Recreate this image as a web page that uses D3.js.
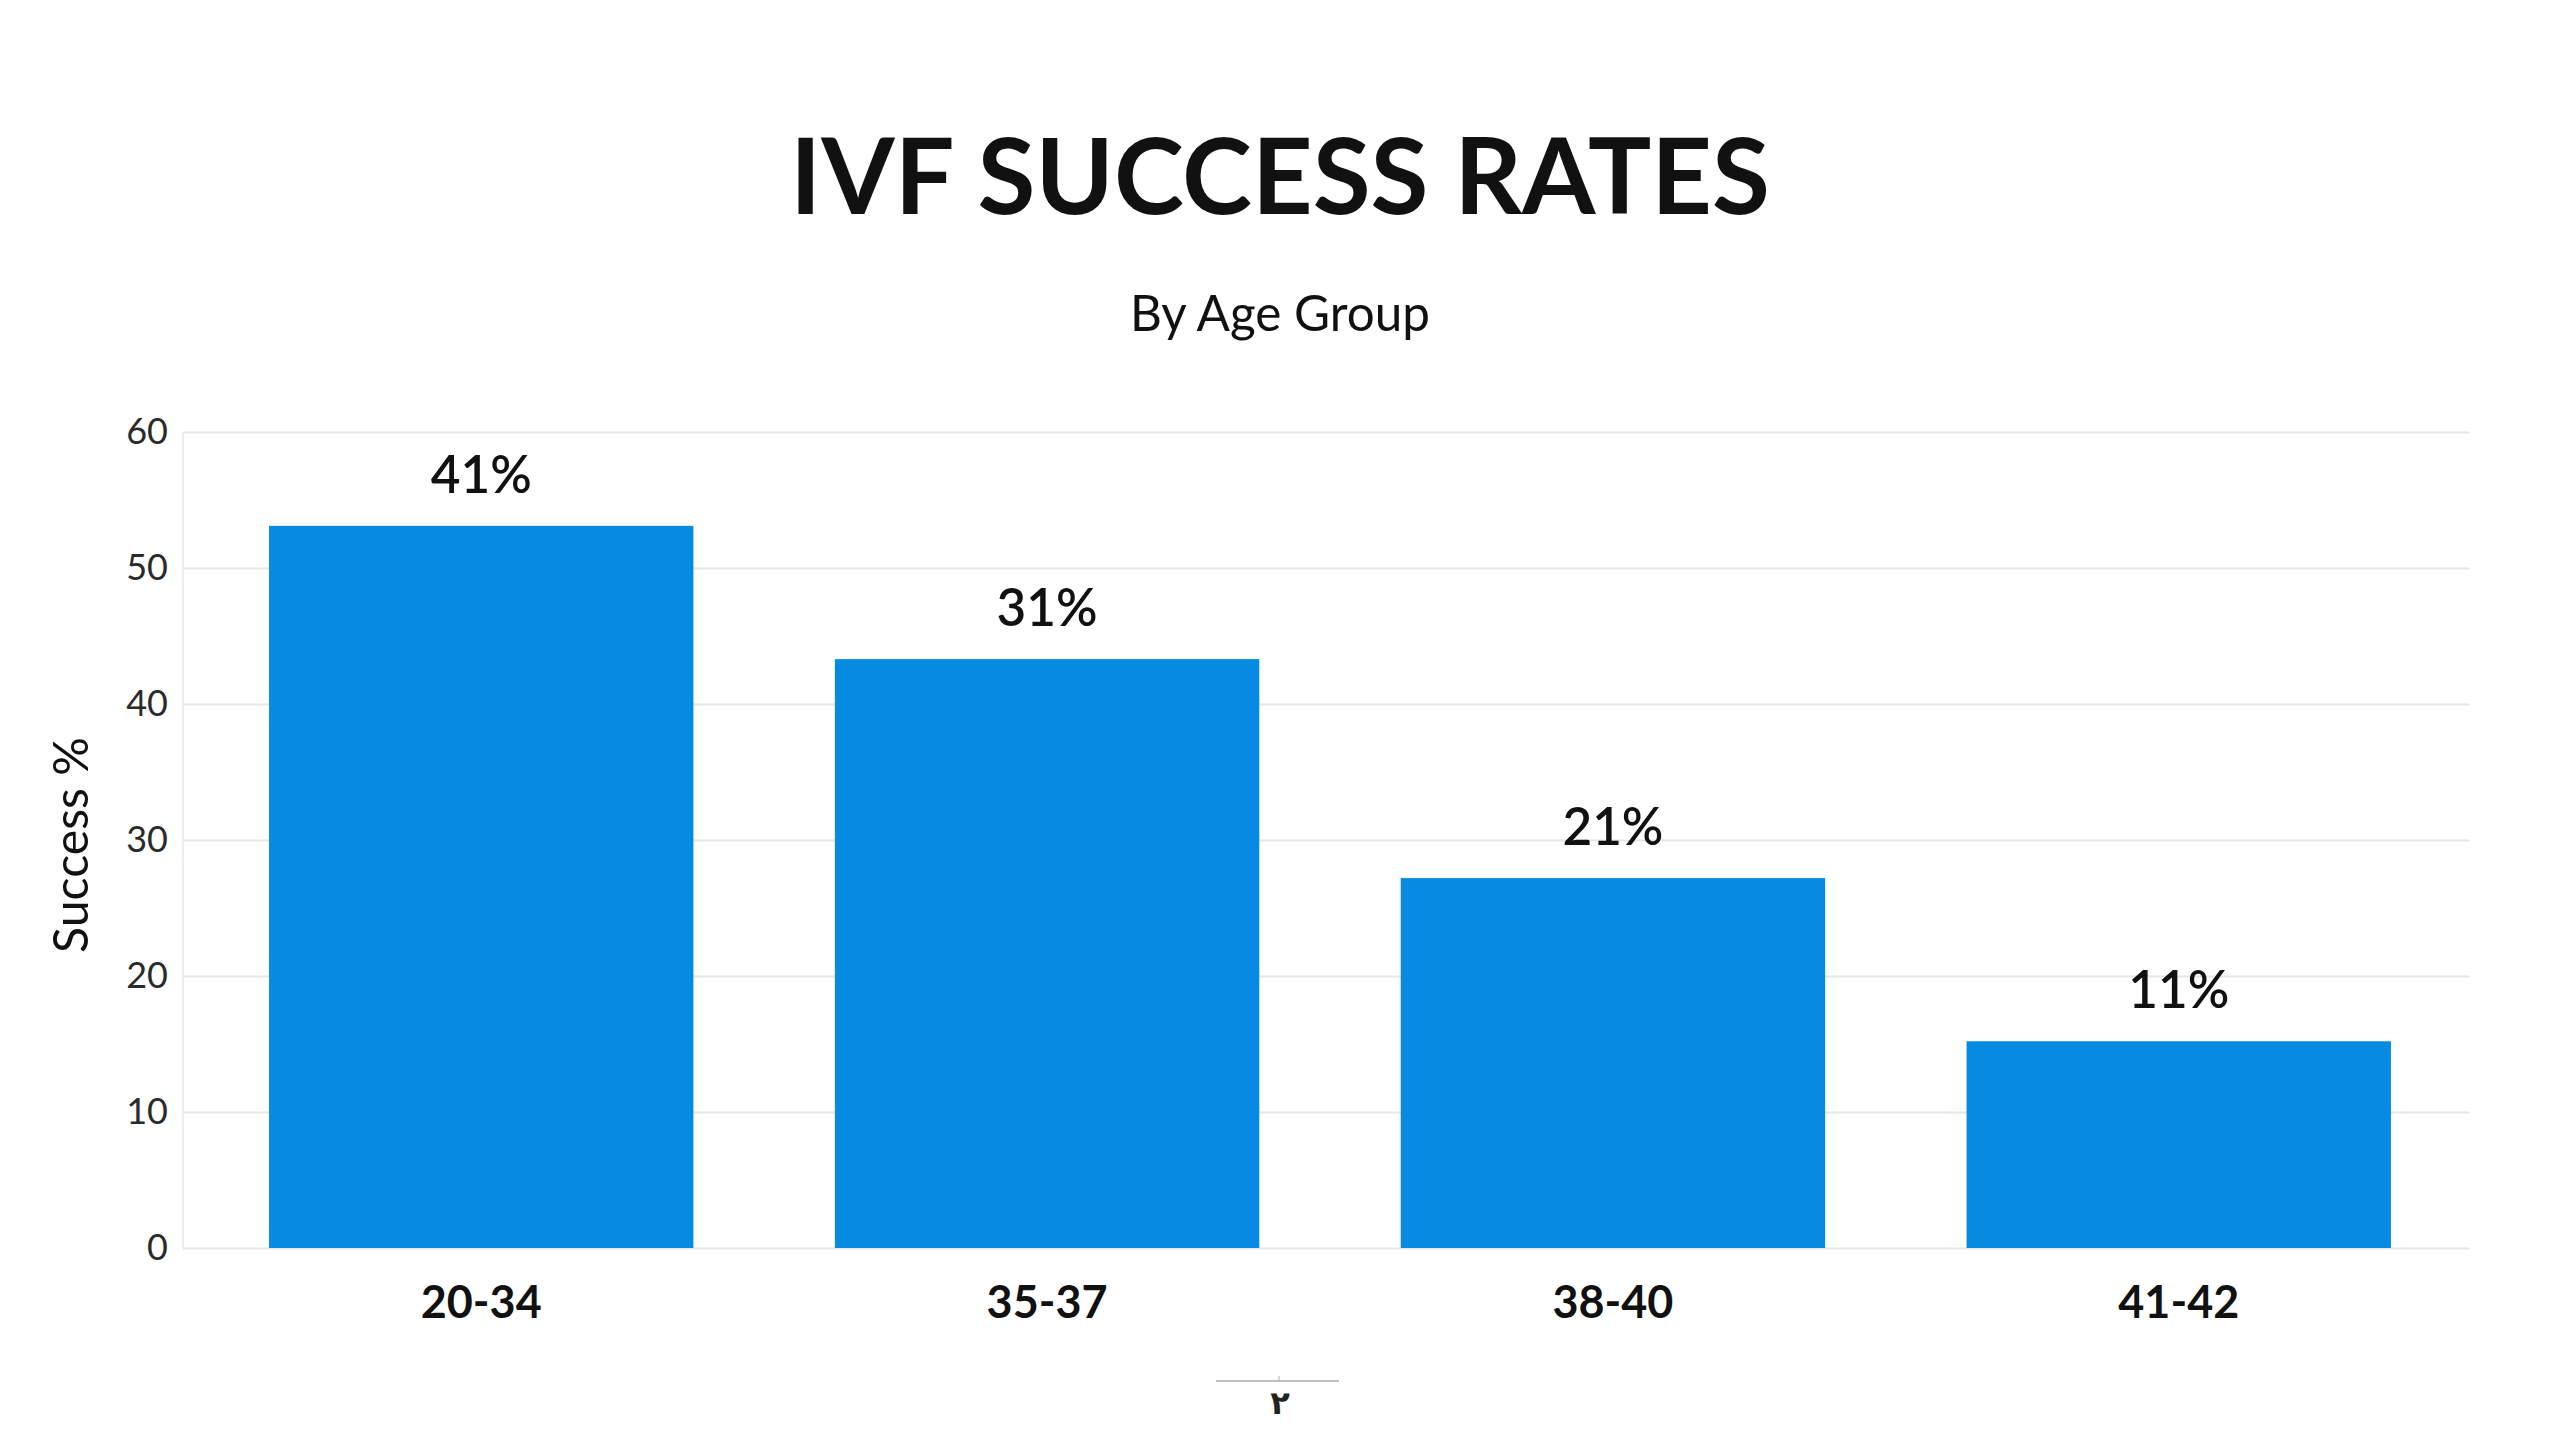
<!DOCTYPE html>
<html>
<head>
<meta charset="utf-8">
<script src="https://cdn.jsdelivr.net/npm/d3@7"></script>
<style>
  html, body { margin: 0; padding: 0; background: #ffffff; }
  svg { display: block; font-family: Lato, "Open Sans", sans-serif; }
</style>
</head>
<body>
<svg id="chart" width="2560" height="1440"></svg>
<script>
const ageGroups = ['20-34', '35-37', '38-40', '41-42'];
const barValues = [53.1, 43.3, 27.2, 15.2];
const valueLabels = ['41%', '31%', '21%', '11%'];
const yTicks = [0, 10, 20, 30, 40, 50, 60];

const svg = d3.select('#chart');
const plotLeft = 183, plotRight = 2469, plotTop = 432, plotBottom = 1248;

// measure a string and return the font size that gives the wanted width
const fitSize = (text, weight, wanted) => {
  const t = svg.append('text')
    .style('font-size', '100px')
    .style('font-weight', weight)
    .text(text);
  const w = t.node().getComputedTextLength();
  t.remove();
  return 100 * wanted / w;
};

const x = d3.scaleBand()
  .domain(ageGroups)
  .range([plotLeft + 4, plotRight + 4])
  .paddingInner(0.25)
  .paddingOuter(0.145);

const y = d3.scaleLinear()
  .domain([0, 60])
  .range([plotBottom, plotTop]);

// title block
svg.append('text')
  .attr('x', 1280).attr('y', 214)
  .attr('text-anchor', 'middle')
  .style('font-weight', 700)
  .style('font-size', `${fitSize('IVF SUCCESS RATES', 700, 980)}px`)
  .style('fill', '#111')
  .text('IVF SUCCESS RATES');

svg.append('text')
  .attr('x', 1280).attr('y', 331)
  .attr('text-anchor', 'middle')
  .style('font-weight', 400)
  .style('font-size', `${fitSize('By Age Group', 400, 300)}px`)
  .style('fill', '#111')
  .text('By Age Group');

// y axis with grid
const yAxis = svg.append('g')
  .attr('transform', `translate(${plotLeft},0)`)
  .call(d3.axisLeft(y).tickValues(yTicks).tickSize(-(plotRight - plotLeft)).tickPadding(15));
yAxis.select('.domain').remove();
yAxis.selectAll('.tick line').attr('stroke', '#e6e6e6').attr('stroke-width', 2);
yAxis.selectAll('.tick text')
  .style('font-size', '36px')
  .style('font-family', 'Lato, sans-serif')
  .style('fill', '#2a2a2a');

svg.append('line')
  .attr('x1', plotLeft).attr('x2', plotLeft)
  .attr('y1', plotTop).attr('y2', plotBottom)
  .attr('stroke', '#ececec').attr('stroke-width', 2);

svg.append('text')
  .attr('transform', 'translate(88,845) rotate(-90)')
  .attr('text-anchor', 'middle')
  .style('font-size', `${fitSize('Success %', 400, 216)}px`)
  .style('fill', '#111')
  .text('Success %');

// bars
svg.selectAll('rect.bar')
  .data(barValues)
  .enter()
  .append('rect')
  .attr('class', 'bar')
  .attr('x', (d, i) => x(ageGroups[i]))
  .attr('y', d => y(d))
  .attr('width', x.bandwidth())
  .attr('height', d => y(0) - y(d))
  .style('fill', '#078ae2');

const labelSize = fitSize('41%', 600, 101);
svg.selectAll('text.val')
  .data(barValues)
  .enter()
  .append('text')
  .attr('class', 'val')
  .attr('x', (d, i) => x(ageGroups[i]) + x.bandwidth() / 2)
  .attr('y', d => y(d) - 33)
  .attr('text-anchor', 'middle')
  .style('font-size', `${labelSize}px`)
  .style('font-weight', 600)
  .style('fill', '#111')
  .text((d, i) => valueLabels[i]);

// x axis labels
const xAxis = svg.append('g')
  .attr('transform', `translate(0,${plotBottom})`)
  .call(d3.axisBottom(x).tickSize(0).tickPadding(20));
xAxis.select('.domain').remove();
xAxis.selectAll('.tick text')
  .attr('dy', 0)
  .attr('y', 70)
  .style('font-size', `${fitSize('20-34', 700, 121)}px`)
  .style('font-weight', 700)
  .style('font-family', 'Lato, sans-serif')
  .style('fill', '#111');

// stray mini axis under the chart
svg.append('line')
  .attr('x1', 1216).attr('x2', 1339)
  .attr('y1', 1381).attr('y2', 1381)
  .attr('stroke', '#aaa').attr('stroke-width', 1.5);
svg.append('line')
  .attr('x1', 1279).attr('x2', 1279)
  .attr('y1', 1376).attr('y2', 1381)
  .attr('stroke', '#aaa').attr('stroke-width', 1);
svg.append('text')
  .attr('x', 1280).attr('y', 1414)
  .attr('text-anchor', 'middle')
  .style('font-size', '32px')
  .style('font-weight', 700)
  .style('font-family', 'DejaVu Sans, sans-serif')
  .style('fill', '#222')
  .text('٢');
</script>
</body>
</html>
